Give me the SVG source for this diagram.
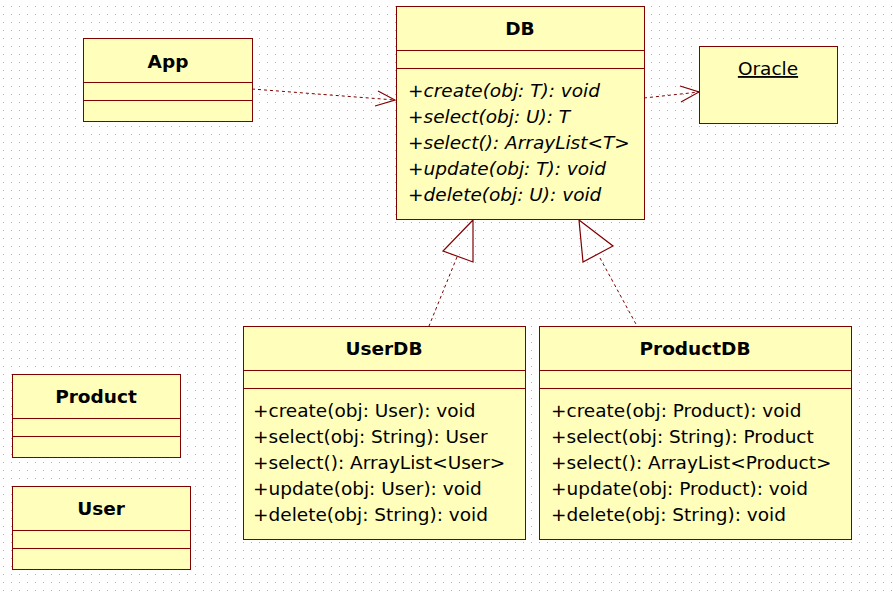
<svg xmlns="http://www.w3.org/2000/svg" width="893" height="597" viewBox="0 0 893 597">
<defs>
<pattern id="grid" x="0" y="0" width="8" height="8" patternUnits="userSpaceOnUse">
<rect x="3" y="6" width="1" height="1" fill="#b4b4b4"/>
</pattern>
<style>
.box{fill:#FFFFBB;stroke:#800000;stroke-width:1}
.div{stroke:#800000;stroke-width:1}
.title{font-family:"DejaVu Sans",sans-serif;font-weight:bold;font-size:18.5px;text-anchor:middle;fill:#000}
.m{font-family:"DejaVu Sans",sans-serif;font-size:18.5px;fill:#000}
.it{font-style:italic}
.dash{fill:none;stroke:#800000;stroke-width:1;stroke-dasharray:3,3}
.head{fill:none;stroke:#800000;stroke-width:1.2}
</style>
</defs>
<rect width="893" height="597" fill="#fff"/>
<rect width="893" height="597" fill="url(#grid)"/>

<g id="connectors">
<path class="dash" d="M252,89 L395,100"/>
<path class="head" d="M378,91 L395,100 L375,106"/>
<path class="dash" d="M644,98 L699,92"/>
<path class="head" d="M680,86 L699,92 L681,102"/>
<path class="dash" d="M457,257 L429,326"/>
<path class="head" d="M473,220 L443,251 L473,262 Z"/>
<path class="dash" d="M600,258 L637,326"/>
<path class="head" d="M579,220 L613,246 L583,262 Z"/>
</g>

<g id="App">
<rect class="box" x="83.5" y="38.5" width="169" height="83"/>
<line class="div" x1="83.5" y1="82.5" x2="252.5" y2="82.5"/>
<line class="div" x1="83.5" y1="100.5" x2="252.5" y2="100.5"/>
<text class="title" x="168" y="68">App</text>
</g>

<g id="DB">
<rect class="box" x="396.5" y="6.5" width="248" height="213"/>
<line class="div" x1="396.5" y1="50.5" x2="644.5" y2="50.5"/>
<line class="div" x1="396.5" y1="68.5" x2="644.5" y2="68.5"/>
<text class="title" x="520" y="35">DB</text>
<text class="m it" x="408" y="97">+create(obj: T): void</text>
<text class="m it" x="408" y="123">+select(obj: U): T</text>
<text class="m it" x="408" y="149">+select(): ArrayList&lt;T&gt;</text>
<text class="m it" x="408" y="175">+update(obj: T): void</text>
<text class="m it" x="408" y="201">+delete(obj: U): void</text>
</g>

<g id="Oracle">
<rect class="box" x="699.5" y="46.5" width="138" height="77"/>
<text class="m" x="768" y="75" text-anchor="middle" text-decoration="underline">Oracle</text>
</g>

<g id="UserDB">
<rect class="box" x="243.5" y="326.5" width="282" height="213"/>
<line class="div" x1="243.5" y1="370.5" x2="525.5" y2="370.5"/>
<line class="div" x1="243.5" y1="388.5" x2="525.5" y2="388.5"/>
<text class="title" x="384" y="355">UserDB</text>
<text class="m" x="253" y="417">+create(obj: User): void</text>
<text class="m" x="253" y="443">+select(obj: String): User</text>
<text class="m" x="253" y="469">+select(): ArrayList&lt;User&gt;</text>
<text class="m" x="253" y="495">+update(obj: User): void</text>
<text class="m" x="253" y="521">+delete(obj: String): void</text>
</g>

<g id="ProductDB">
<rect class="box" x="539.5" y="326.5" width="312" height="213"/>
<line class="div" x1="539.5" y1="370.5" x2="851.5" y2="370.5"/>
<line class="div" x1="539.5" y1="388.5" x2="851.5" y2="388.5"/>
<text class="title" x="695" y="355">ProductDB</text>
<text class="m" x="551" y="417">+create(obj: Product): void</text>
<text class="m" x="551" y="443">+select(obj: String): Product</text>
<text class="m" x="551" y="469">+select(): ArrayList&lt;Product&gt;</text>
<text class="m" x="551" y="495">+update(obj: Product): void</text>
<text class="m" x="551" y="521">+delete(obj: String): void</text>
</g>

<g id="Product">
<rect class="box" x="12.5" y="374.5" width="168" height="83"/>
<line class="div" x1="12.5" y1="418.5" x2="180.5" y2="418.5"/>
<line class="div" x1="12.5" y1="436.5" x2="180.5" y2="436.5"/>
<text class="title" x="96" y="403">Product</text>
</g>

<g id="User">
<rect class="box" x="12.5" y="486.5" width="178" height="83"/>
<line class="div" x1="12.5" y1="530.5" x2="190.5" y2="530.5"/>
<line class="div" x1="12.5" y1="548.5" x2="190.5" y2="548.5"/>
<text class="title" x="101" y="515">User</text>
</g>
</svg>
